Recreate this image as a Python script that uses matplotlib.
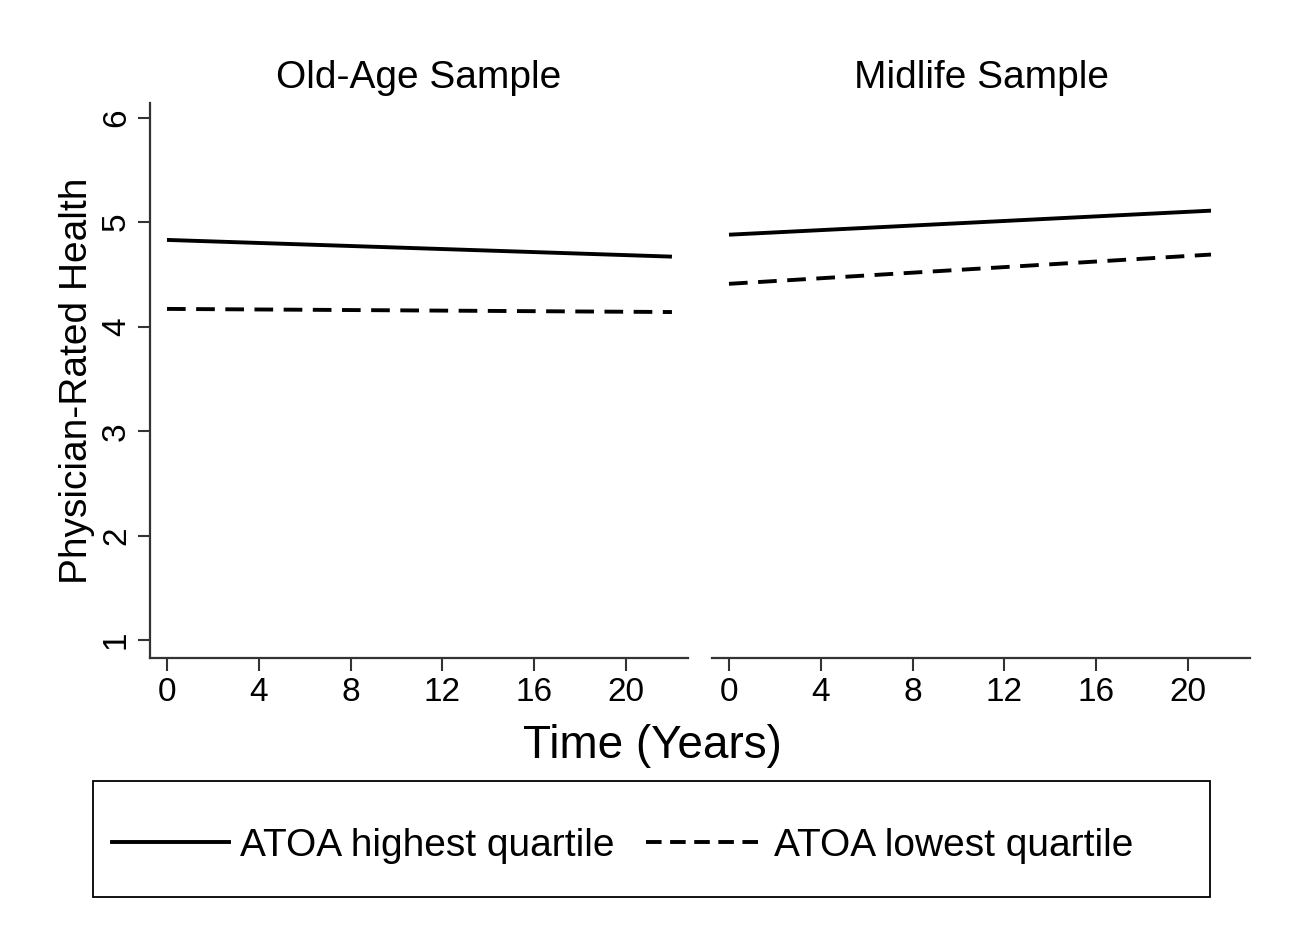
import matplotlib.pyplot as plt
from matplotlib.lines import Line2D
from matplotlib.patches import Rectangle

plt.rcParams['font.family'] = ['Liberation Sans', 'DejaVu Sans']

# data
panels = ["Old-Age Sample", "Midlife Sample"]
old_time = [0, 22]
old_high = [4.83, 4.67]
old_low = [4.17, 4.14]
mid_time = [0, 21]
mid_high = [4.88, 5.11]
mid_low = [4.41, 4.69]
xticks = [0, 4, 8, 12, 16, 20]
yticks = [1, 2, 3, 4, 5, 6]
labels = ["ATOA highest quartile", "ATOA lowest quartile"]

W, H = 1293, 935
fig = plt.figure(figsize=(W / 100, H / 100), dpi=100)

def px_axes(x0, y0, x1, y1):
    return fig.add_axes([x0 / W, 1 - y1 / H, (x1 - x0) / W, (y1 - y0) / H])

ax1 = px_axes(150, 103, 688, 658)
ax2 = px_axes(712, 103, 1250, 658)

spine_col = '#333333'
lw = 2.8
for ax, t, hi, lo, title in [(ax1, old_time, old_high, old_low, panels[0]),
                             (ax2, mid_time, mid_high, mid_low, panels[1])]:
    ax.plot(t, hi, color='black', lw=lw, solid_capstyle='butt')
    ax.plot(t, lo, color='black', lw=lw, dashes=(4.8, 2.7))
    ax.set_xlim(-0.74, 22.7)
    ax.set_ylim(0.83, 6.14)
    ax.set_xticks(xticks)
    ax.set_yticks(yticks)
    ax.tick_params(axis='x', labelsize=24, length=9, width=1.5, color=spine_col, pad=5)
    ax.tick_params(axis='y', labelsize=24, length=9, width=1.5, color=spine_col,
                   labelrotation=90, pad=4)
    for lab in ax.get_yticklabels():
        lab.set_va('center')
    for s in ['top', 'right']:
        ax.spines[s].set_visible(False)
    ax.spines['bottom'].set_color(spine_col)
    ax.spines['bottom'].set_linewidth(1.6)
    ax.spines['left'].set_color(spine_col)
    ax.spines['left'].set_linewidth(1.6)
    ax.set_title(title, fontsize=28, pad=11)

ax2.spines['left'].set_visible(False)
ax2.tick_params(axis='y', left=False, labelleft=False)

ax1.set_ylabel("Physician-Rated Health", fontsize=28, labelpad=4)
fig.text(652 / W, 1 - 746 / H, "Time (Years)", fontsize=33, ha='center', va='center')

# legend box
fig.patches.append(Rectangle((93 / W, 1 - 897 / H), (1210 - 93) / W, (897 - 781) / H,
                             transform=fig.transFigure, fill=False,
                             edgecolor='black', lw=1.3))
handles = [Line2D([], [], color='black', lw=lw),
           Line2D([], [], color='black', lw=lw, dashes=(4.0, 2.2))]
fig.legend(handles, labels, loc='center left', ncol=2,
           bbox_to_anchor=(112 / W, 1 - 846 / H),
           fontsize=28, frameon=False,
           handlelength=3.0, handletextpad=0.3, columnspacing=0.8,
           borderaxespad=0, borderpad=0)

fig.savefig('out.png', dpi=100)
